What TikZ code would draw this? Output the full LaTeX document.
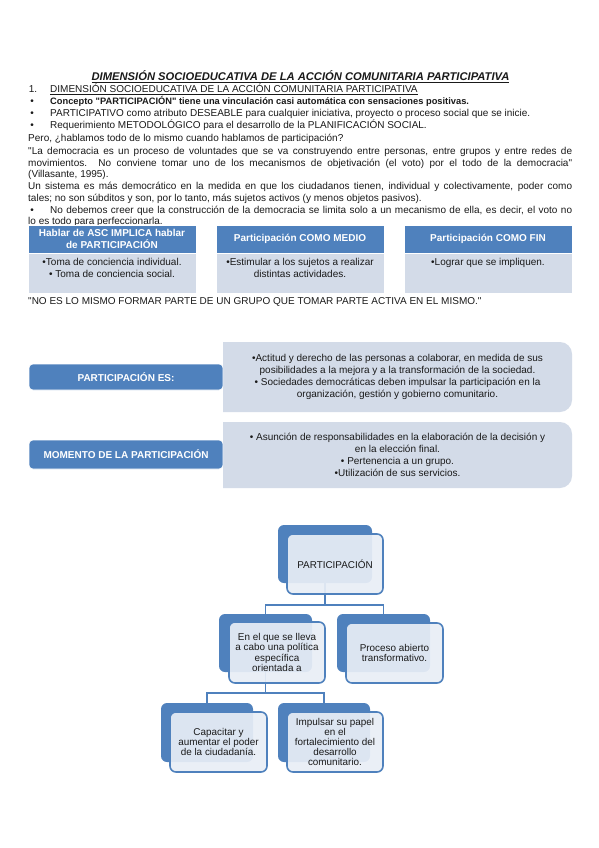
\documentclass[tikz,border=0pt]{standalone}
\usepackage{fontspec}
\setmainfont{Liberation Sans}
\newfontfamily\qfam{Liberation Sans}
\newcommand\dq{{\qfam"}}
\definecolor{hblue}{HTML}{4F81BD}
\definecolor{lblue}{HTML}{D3DBE8}
\definecolor{tfill}{HTML}{E9EEF6}
\definecolor{ink}{HTML}{1A1A1A}
\newcommand\bodyfs{\fontsize{10}{11.7}\selectfont}
\newcommand\boxfs{\fontsize{10}{12}\selectfont}
\newcommand\treefs{\fontsize{9.9}{10.2}\selectfont}
\tikzset{
  txt/.style={anchor=base west, inner sep=0pt, font=\bodyfs, text=ink},
  bul/.style={anchor=base, inner sep=0pt, font=\bodyfs, text=ink},
  hdr/.style={fill=hblue, draw=white, line width=0.4pt, text=white, font=\boxfs\bfseries, align=center, inner sep=0pt},
  bodybox/.style={fill=lblue, draw=white, line width=0.4pt, text=ink, font=\boxfs, align=center, inner sep=0pt},
  pill/.style={fill=hblue, draw=white, line width=0.6pt, rounded corners=4pt, text=white, font=\boxfs\bfseries, inner sep=0pt},
  back/.style={fill=hblue, rounded corners=6pt, inner sep=0pt},
  front/.style={fill=tfill, fill opacity=0.92, text opacity=1, draw=hblue, line width=1.6pt, rounded corners=6pt, inner sep=0pt, font=\treefs, text=ink, align=center},
  conn/.style={draw=hblue, line width=1.6pt},
}
\begin{document}
\begin{tikzpicture}[x=1pt,y=-1pt]
\useasboundingbox[fill=white] (0,0) rectangle (599,848);

% ---------- header text ----------
\node[anchor=base, inner sep=0pt, font=\fontsize{11.2}{12}\selectfont\bfseries\itshape, text=ink] (title) at (300.5,80.5)
  {\underline{DIMENSIÓN SOCIOEDUCATIVA DE LA ACCIÓN COMUNITARIA PARTICIPATIVA}};
\node[bul] (n1) at (33,92.5) {1.};
\node[txt] (l1) at (50,92.5) {\underline{DIMENSIÓN SOCIOEDUCATIVA DE LA ACCIÓN COMUNITARIA PARTICIPATIVA}};
\node[bul] (b1) at (32,104.5) {•};
\node[txt, font=\fontsize{9.3}{11.7}\selectfont\bfseries] (l2) at (50,104.5) {Concepto \dq PARTICIPACIÓN\dq{} tiene una vinculación casi automática con sensaciones positivas.};
\node[bul] (b2) at (32,116.5) {•};
\node[txt] (l3) at (50,116.5) {PARTICIPATIVO como atributo DESEABLE para cualquier iniciativa, proyecto o proceso social que se inicie.};
\node[bul] (b3) at (32,128.5) {•};
\node[txt] (l4) at (50,128.5) {Requerimiento METODOLÓGICO para el desarrollo de la PLANIFICACIÓN SOCIAL.};
\node[txt] (l5) at (28,141.5) {Pero, ¿hablamos todo de lo mismo cuando hablamos de participación?};
\node[txt] (q1) at (28,154.5) {\makebox[544pt][s]{\dq La democracia es un proceso de voluntades que se va construyendo entre personas, entre grupos y entre redes de}};
\node[txt] (q2) at (28,166.2) {\makebox[544pt][s]{movimientos. No conviene tomar uno de los mecanismos de objetivación (el voto) por el todo de la democracia\dq}};
\node[txt] (q3) at (28,177.9) {(Villasante, 1995).};
\node[txt] (s1) at (28,189.6) {\makebox[544pt][s]{Un sistema es más democrático en la medida en que los ciudadanos tienen, individual y colectivamente, poder como}};
\node[txt] (s2) at (28,201.3) {tales; no son súbditos y son, por lo tanto, más sujetos activos (y menos objetos pasivos).};
\node[bul] (b4) at (32,213) {•};
\node[txt] (d1) at (50,213) {\makebox[522pt][s]{No debemos creer que la construcción de la democracia se limita solo a un mecanismo de ella, es decir, el voto no}};
\node[txt] (d2) at (28,224.7) {lo es todo para perfeccionarla.};

% ---------- three boxes ----------
\node[hdr, minimum width=168pt, minimum height=28pt] (h1) at (112,239) {Hablar de ASC IMPLICA hablar\\de PARTICIPACIÓN};
\node[hdr, minimum width=168pt, minimum height=28pt] (h2) at (300,239) {Participación COMO MEDIO};
\node[hdr, minimum width=168pt, minimum height=28pt] (h3) at (488,239) {Participación COMO FIN};
\node[bodybox, minimum width=168pt, minimum height=40pt, anchor=north] (c1) at (h1.south) {};
\node[bodybox, minimum width=168pt, minimum height=40pt, anchor=north] (c2) at (h2.south) {};
\node[bodybox, minimum width=168pt, minimum height=40pt, anchor=north] (c3) at (h3.south) {};
\node[anchor=north, inner sep=0pt, font=\boxfs, text=ink, align=center] (c1t) at (112,258.5) {•Toma de conciencia individual.\\ • Toma de conciencia social.};
\node[anchor=north, inner sep=0pt, font=\boxfs, text=ink, align=center] (c2t) at (300,258.5) {•Estimular a los sujetos a realizar\\distintas actividades.};
\node[anchor=north, inner sep=0pt, font=\boxfs, text=ink, align=center] (c3t) at (488,258.5) {•Lograr que se impliquen.};
\node[txt] (nom) at (28,304.5) {\dq NO ES LO MISMO FORMAR PARTE DE UN GRUPO QUE TOMAR PARTE ACTIVA EN EL MISMO.\dq};

% ---------- list section ----------
\path[fill=lblue] (223,342) -- (560,342) arc[start angle=90, end angle=0, radius=12pt] -- (572,400) arc[start angle=0, end angle=-90, radius=12pt] -- (223,412) -- cycle;
\path[fill=lblue] (223,422) -- (560,422) arc[start angle=90, end angle=0, radius=12pt] -- (572,476) arc[start angle=0, end angle=-90, radius=12pt] -- (223,488) -- cycle;
\node[pill, minimum width=194pt, minimum height=26pt] (pes) at (126,377) {PARTICIPACIÓN ES:};
\node[pill, minimum width=194pt, minimum height=29pt] (mom) at (126,454.5) {MOMENTO DE LA PARTICIPACIÓN};
\node[inner sep=0pt, font=\boxfs, text=ink, align=center] (pest) at (397.5,377)
  {•Actitud y derecho de las personas a colaborar, en medida de sus\\posibilidades a la mejora y a la transformación de la sociedad.\\• Sociedades democráticas deben impulsar la participación en la\\organización, gestión y gobierno comunitario.};
\node[inner sep=0pt, font=\boxfs, text=ink, align=center] (momt) at (397.5,455)
  {• Asunción de responsabilidades en la elaboración de la decisión y\\en la elección final.\\• Pertenencia a un grupo.\\•Utilización de sus servicios.};

% ---------- tree ----------
\node[back, minimum width=94pt, minimum height=58pt] (Pb) at (325,554) {};
\node[back, minimum width=93pt, minimum height=58pt] (C1b) at (265.5,643) {};
\node[back, minimum width=93pt, minimum height=58pt] (C2b) at (383.5,643) {};
\node[back, minimum width=92pt, minimum height=59pt] (G1b) at (207,732.5) {};
\node[back, minimum width=92pt, minimum height=59pt] (G2b) at (324,732.5) {};
\coordinate (j1) at (325,605);
\coordinate (j2) at (265.5,693);
\draw[conn] (Pb.south) -- (j1) -| (C1b.north);
\draw[conn] (j1) -| (C2b.north);
\draw[conn] (C1b.south) -- (j2) -| (G1b.north);
\draw[conn] (j2) -| (G2b.north);
\node[front, minimum width=96pt, minimum height=60pt] (Pf) at (335,564) {PARTICIPACIÓN};
\node[front, minimum width=96pt, minimum height=61pt] (C1f) at (277,652.5) {En el que se lleva\\a cabo una política\\específica\\orientada a};
\node[front, minimum width=97pt, minimum height=60pt] (C2f) at (394.5,653) {Proceso abierto\\transformativo.};
\node[front, minimum width=97pt, minimum height=60pt] (G1f) at (218.5,742) {Capacitar y\\aumentar el poder\\de la ciudadanía.};
\node[front, minimum width=96pt, minimum height=60pt] (G2f) at (335,742) {Impulsar su papel\\en el\\fortalecimiento del\\desarrollo\\comunitario.};
\end{tikzpicture}
\end{document}
